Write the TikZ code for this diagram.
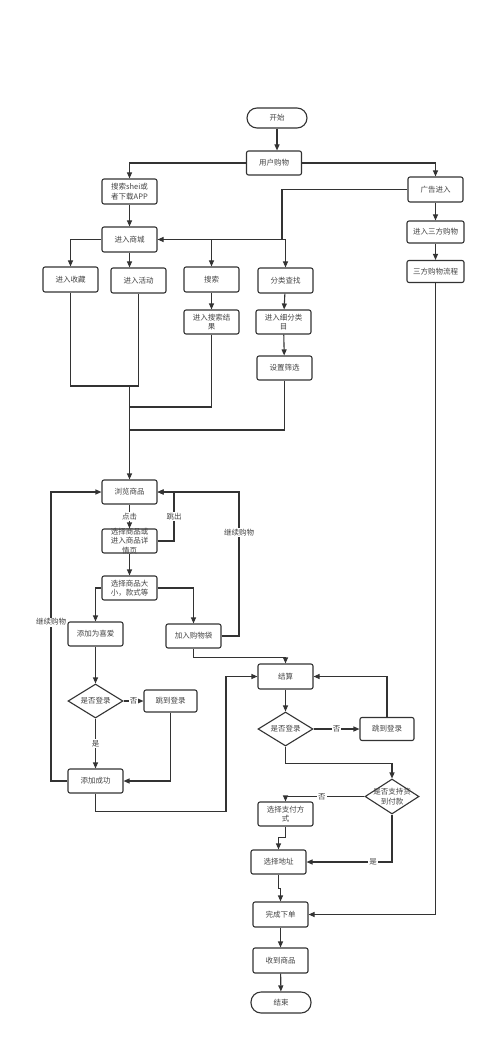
\documentclass[tikz,border=0pt]{standalone}
\usepackage{fontspec}
\setmainfont{Noto Sans CJK SC}
\usepackage{tikz}
\usetikzlibrary{shapes.geometric,arrows.meta}

\definecolor{trait}{HTML}{333333}
\definecolor{texte}{HTML}{444444}

\tikzset{
  boite/.style={rectangle,draw=trait,line width=1.1pt,rounded corners=2pt,
    minimum width=55pt,minimum height=24pt,inner sep=1pt,align=center,
    text=texte,font=\fontsize{7.5}{9.5}\selectfont},
  terminal/.style={boite,rounded corners=10pt,minimum width=60pt,minimum height=20pt},
  losange/.style={diamond,draw=trait,line width=1.1pt,minimum width=55pt,
    minimum height=34pt,inner sep=0pt,
    label={[align=center,text=texte,font=\fontsize{7.5}{9.5}\selectfont]center:#1}},
  etiq/.style={fill=white,inner sep=1pt,text=texte,font=\fontsize{7.5}{9}\selectfont},
  fleche/.style={draw=trait,line width=1.1pt,->},
}

\begin{document}
\begin{tikzpicture}[x=1pt,y=-1pt,>={Triangle[length=6pt,width=5pt]}]
      % Fond et cadre de la page
      \fill[white] (0,0) rectangle (500,1048);
      \useasboundingbox (0,0) rectangle (500,1048);

      % Partie haute : entrée dans le magasin
      \node[terminal] (Debut) at (277,118) {开始};
      \node[boite] (Achat) at (274,163) {用户购物};
      \node[boite,minimum height=25pt] (ChercheApp) at (129.5,191.5) {搜索shei或\\者下载APP};
      \node[boite,minimum height=25pt] (Pub) at (435.5,189.5) {广告进入};
      \node[boite,minimum width=57pt,minimum height=22pt] (Tiers) at (435.5,232) {进入三方购物};
      \node[boite,minimum width=57pt,minimum height=22pt] (Tiers_Fl) at (435.5,271.5) {三方购物流程};
      \node[boite,minimum height=25pt] (Mall) at (129.5,239.5) {进入商城};
      \node[boite,minimum height=25pt] (Favoris) at (70.5,279.5) {进入收藏};
      \node[boite,minimum height=25pt] (Activite) at (138.5,280.5) {进入活动};
      \node[boite,minimum height=25pt] (Recherche) at (211.5,279.5) {搜索};
      \node[boite,minimum height=25pt] (Categorie) at (285.5,280.5) {分类查找};
      \node[boite] (Resultat) at (211.5,322) {进入搜索结\\果};
      \node[boite] (SousCat) at (283.5,322) {进入细分类\\目};
      \node[boite] (Filtre) at (284.5,368) {设置筛选};

      % Points de jonction
      \coordinate (J1) at (129.5,386);
      \coordinate (J2) at (129.5,407);
      \coordinate (J3) at (129.5,430);

      % Partie centrale : choix des articles
      \node[boite] (Parcours) at (129.5,492) {浏览商品};
      \node[boite,label={[align=center,text=texte,font=\fontsize{7.5}{9.5}\selectfont]center:选择商品或\\进入商品详\\情页}] (Detail) at (129.5,541) {};
      \node[boite] (Taille) at (129.5,588) {选择商品大\\小，款式等};
      \node[boite] (Favori_Aj) at (95.5,634) {添加为喜爱};
      \node[boite] (Panier) at (193.5,636) {加入购物袋};
      \node[losange=是否登录] (Login_G) at (95.5,701) {};
      \node[boite,minimum width=53pt,minimum height=22pt] (Saut_G) at (170.5,701) {跳到登录};
      \node[boite] (Ajout_OK) at (95.5,781) {添加成功};

      % Partie basse : paiement
      \node[boite,minimum height=25pt] (Paie) at (285.5,676.5) {结算};
      \node[losange=是否登录] (Login_D) at (285.5,729) {};
      \node[boite,minimum width=54pt,minimum height=23pt] (Saut_D) at (387,729) {跳到登录};
      \node[losange={是否支持货\\到付款},minimum width=54pt,minimum height=35pt] (Livraison) at (392,796.5) {};
      \node[boite] (ModePaie) at (285.5,814) {选择支付方\\式};
      \node[boite] (Adresse) at (278.5,862) {选择地址};
      \node[boite,minimum height=25pt] (Fin_Cmd) at (280.5,914.5) {完成下单};
      \node[boite,minimum height=25pt] (Recu) at (280.5,960.5) {收到商品};
      \node[terminal,minimum height=21pt] (Fin) at (281,1002.5) {结束};

      % Flèches du haut
      \draw[fleche] (Debut.south) -- (Debut.south |- Achat.north);
      \draw[fleche] (Achat.west) -| (ChercheApp.north);
      \draw[fleche] (Achat.east) -| (Pub.north);
      \draw[fleche] (ChercheApp) -- (Mall);
      \draw[fleche] (Pub) -- (Tiers);
      \draw[fleche] (Tiers) -- (Tiers_Fl);
      \draw[fleche] (Pub.west) -| (282,239.5) -- (Mall.east);
      \draw[fleche] (Mall.west) -| (Favoris.north);
      \draw[fleche] (Mall.south) -- (Mall.south |- Activite.north);
      \draw[fleche] (Mall.east) -| (Recherche.north);
      \draw[fleche] (Mall.east) -| (Categorie.north);
      \draw[fleche] (Recherche) -- (Resultat);
      \draw[fleche] (Categorie) -- (SousCat);
      \draw[fleche] (SousCat) -- (Filtre);

      % Regroupement vers le parcours
      \draw[draw=trait,line width=1.1pt] (Favoris.south) |- (Activite.south |- J1) -- (Activite.south);
      \draw[draw=trait,line width=1.1pt] (Resultat.south) |- (J2);
      \draw[draw=trait,line width=1.1pt] (Filtre.south) |- (J3);
      \draw[fleche] (J1) -- (Parcours.north);

      % Flèches du milieu
      \draw[fleche] (Parcours) -- node[etiq]{点击} (Detail);
      \draw[fleche] (Detail.east) -- (174,541) -- node[etiq]{跳出} (174,492) -- (Parcours.east);
      \draw[fleche] (Detail) -- (Taille);
      \draw[fleche] (Taille.west) -| (Favori_Aj.north);
      \draw[fleche] (Taille.east) -| (Panier.north);
      \draw[fleche] (Panier.east) -- (239,636) -- node[etiq,pos=0.72]{继续购物} (239,492) -- (Parcours.east);
      \draw[fleche] (Favori_Aj) -- (Login_G);
      \draw[fleche] (Login_G.east) -- node[etiq]{否} (Saut_G.west);
      \draw[fleche] (Login_G.south) -- node[etiq]{是} (Ajout_OK.north);
      \draw[fleche] (Saut_G.south) |- (Ajout_OK.east);
      \draw[fleche] (Ajout_OK.west) -- (51,781) -- node[etiq,pos=0.55]{继续购物} (51,492) -- (Parcours.west);

      % Flèches du paiement
      \draw[fleche] (Panier.south) -- ++(0,9) -| (Paie.north);
      \draw[fleche] (Ajout_OK.south) -- ++(0,18) -| (226,676.5) -- (Paie.west);
      \draw[fleche] (Paie) -- (Login_D);
      \draw[fleche] (Login_D.east) -- node[etiq]{否} (Saut_D.west);
      \draw[fleche] (Saut_D.north) |- (Paie.east);
      \draw[fleche] (Login_D.south) -- ++(0,17) -| (Livraison.north);
      \draw[fleche] (Livraison.west) -| node[etiq,pos=0.27]{否} (ModePaie.north);
      \draw[fleche] (Livraison.south) |- node[etiq,pos=0.61]{是} (Adresse.east);
      \draw[fleche] (ModePaie.south) -- ++(0,11) -| (Adresse.north);
      \draw[fleche] (Adresse.south) -- ++(0,14) -| (Fin_Cmd.north);
      \draw[fleche] (Tiers_Fl.south) |- (Fin_Cmd.east);
      \draw[fleche] (Fin_Cmd) -- (Recu);
      \draw[fleche] (Recu) -- (Fin);
\end{tikzpicture}
\end{document}
